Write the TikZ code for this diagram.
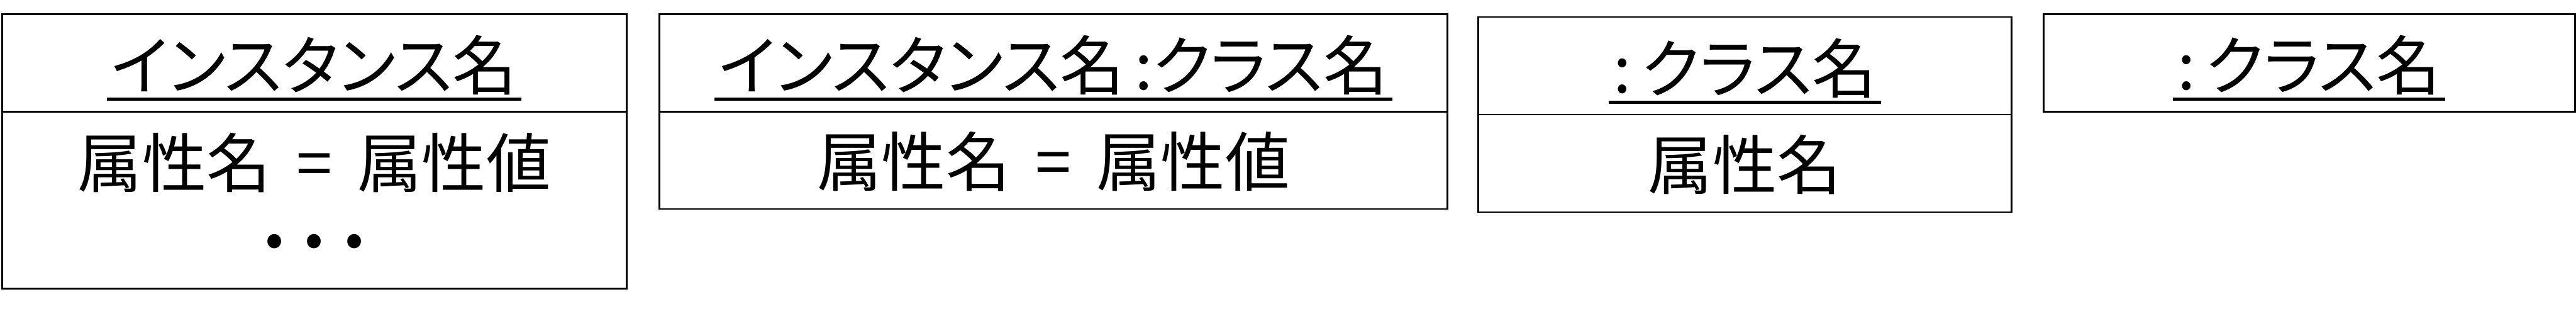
\documentclass[tikz,border=0pt]{standalone}
\usepackage{fontspec}
\usepackage{tikz}
\usetikzlibrary{positioning}
\newfontfamily\jpfont{Noto Sans CJK JP}
\newfontfamily\jpname[RawFeature=+palt]{Noto Sans CJK JP}

\begin{document}
\begin{tikzpicture}[
    x=1pt, y=-1pt,
    cell/.style={rectangle, draw=black, line width=0.7pt, inner sep=0pt, outer sep=0pt, minimum height=37.8pt},
    objname/.style={font=\jpname\fontsize{25}{30}\selectfont, inner xsep=1.5pt, inner ysep=0pt},
    attr/.style={font=\jpfont\fontsize{25}{23.4}\selectfont, inner sep=0pt, align=center},
    uline/.style={line width=1.2pt}
]
\useasboundingbox (0,0) rectangle (999.2,122.4);

% object boxes
\node[cell, minimum width=242.2pt, anchor=north west] (h1) at (0.8,5.4) {};
\node[cell, minimum width=242.2pt, minimum height=68.6pt, below=0pt of h1] (b1) {};
\node[cell, minimum width=305.6pt, anchor=north west] (h2) at (255.8,5.4) {};
\node[cell, minimum width=305.6pt, below=0pt of h2] (b2) {};
\node[cell, minimum width=206.8pt, anchor=north west] (h3) at (573.4,6.6) {};
\node[cell, minimum width=206.8pt, below=0pt of h3] (b3) {};
\node[cell, minimum width=206.2pt, anchor=north west] (h4) at (792.6,5.4) {};

% names
\node[objname, yshift=-1pt] (n1) at (h1) {インスタンス名};
\node[objname, yshift=-1pt] (n2) at (h2) {インスタンス名\,:クラス名};
\node[objname, yshift=-1pt] (n3) at (h3) {:\,クラス名};
\node[objname, yshift=-1pt] (n4) at (h4) {:\,クラス名};
\foreach \n in {n1,n2,n3,n4}
    \draw[uline] ([yshift=-1.4pt]\n.south west) -- ([yshift=-1.4pt]\n.south east);

% attributes
\node[attr, below=8.2pt of b1.north] (a1) {属性名~\,=~\,属性値\\{\bfseries\addfontfeature{LetterSpace=27}...}};
\node[attr, yshift=-0.5pt] (a2) at (b2) {属性名~\,=~\,属性値};
\node[attr, yshift=-0.5pt] (a3) at (b3) {属性名};
\end{tikzpicture}
\end{document}
